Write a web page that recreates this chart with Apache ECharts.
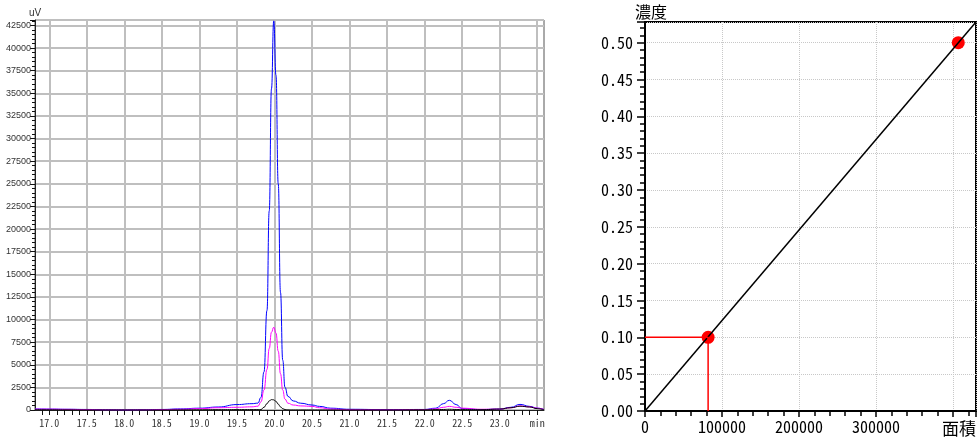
<!DOCTYPE html>
<html>
<head>
<meta charset="utf-8">
<script src="https://cdn.jsdelivr.net/npm/echarts@6/dist/echarts.min.js"></script>
<style>
  html, body { margin: 0; padding: 0; background: #fff; }
  #chart { width: 979px; height: 439px; }
</style>
</head>
<body>
<div id="chart"></div>
<script>
  // chromatogram (left)
  const time = [16.81, 17.0, 17.25, 17.5, 17.75, 18.0, 18.25, 18.5, 18.75, 19.0,
    19.25, 19.5, 19.7, 19.78, 19.82, 19.86, 19.9, 19.93, 19.96, 19.99,
    20.02, 20.05, 20.08, 20.11, 20.14, 20.18, 20.25, 20.35, 20.5, 20.6,
    20.75, 21.0, 21.5, 22.0, 22.15, 22.25, 22.33, 22.42, 22.5, 22.75,
    23.0, 23.15, 23.27, 23.4, 23.5, 23.59]
  const blue = [120, 100, 80, 60, 20, 0, 20, 60, 120, 200,
    330, 600, 700, 760, 1400, 4200, 11000, 22000, 35500, 43000,
    37000, 25000, 13000, 5500, 2500, 1500, 1000, 750, 550, 400,
    200, 80, 40, 60, 200, 700, 1070, 600, 150, 50,
    100, 300, 620, 400, 200, 50]
  const magenta = [100, 90, 70, 40, 10, 0, 10, 40, 80, 150,
    250, 300, 350, 420, 900, 2200, 4500, 6800, 8600, 9150,
    8500, 6500, 4000, 2200, 1200, 750, 550, 450, 400, 250,
    100, 30, 20, 50, 120, 300, 400, 300, 200, 80,
    100, 250, 450, 350, 200, 50]
  const black = [30, 20, 10, 0, 0, 0, 0, 0, 10, 20,
    30, 40, 40, 40, 50, 300, 700, 1000, 1150, 1120,
    950, 650, 350, 150, 50, 10, 0, 0, 0, 0,
    0, 0, 0, 20, 40, 60, 80, 60, 40, 30,
    100, 250, 420, 330, 150, 30]
  const timeTicks = [17.0, 17.5, 18.0, 18.5, 19.0, 19.5, 20.0, 20.5, 21.0, 21.5, 22.0, 22.5, 23.0, 23.5]

  // calibration curve (right)
  const curveArea = [0, 430000]
  const curveConc = [0, 0.528]
  const pointArea = [82000, 407000]
  const pointConc = [0.10, 0.50]
  const guideArea = [0, 82000, 82000]
  const guideConc = [0.10, 0.10, 0]

  function zip (xs, ys) {
    return xs.map((x, i) => [x, ys[i]])
  }
  // every 0.1 min between the labelled ticks
  let allTime = []
  for (let i = 0; i < timeTicks.length; i++) {
    for (let k = -4; k <= 0; k++) {
      let v = Math.round((timeTicks[i] + k * 0.1) * 10) / 10
      if (v > 16.81) allTime.push(v)
    }
  }

  const monoFont = '"Noto Sans Mono CJK JP", "Liberation Mono", monospace'
  const cjkFont = '"Noto Sans Mono CJK JP", "Noto Sans CJK JP", sans-serif'

  function chromLine (data, color) {
    return {
      type: 'line',
      xAxisIndex: 0,
      yAxisIndex: 0,
      data: zip(time, data),
      smooth: true,
      smoothMonotone: 'x',
      symbol: 'none',
      lineStyle: { color: color, width: 1 }
    }
  }

  let chart = echarts.init(document.getElementById('chart'))
  let option = {
    animation: false,
    grid: [
      { left: 35, top: 20, width: 509, height: 390, show: true, borderColor: '#555', borderWidth: 1 },
      { left: 645, top: 22, width: 332, height: 389, show: true, borderColor: '#000', borderWidth: 2 }
    ],
    xAxis: [
      {
        type: 'value',
        gridIndex: 0,
        position: 'bottom',
        min: 16.81,
        max: 23.59,
        axisLine: { onZero: false, lineStyle: { color: '#222', width: 1 } },
        axisTick: { show: true, inside: false, customValues: allTime, length: 5, lineStyle: { color: '#111', width: 1 } },
        axisLabel: {
          customValues: timeTicks,
          formatter: v => (v === 23.5 ? 'min' : v.toFixed(1)),
          fontFamily: monoFont,
          fontSize: 10,
          color: '#333',
          margin: 8
        },
        splitLine: { show: false }
      },
      {
        type: 'value',
        gridIndex: 0,
        position: 'top',
        min: 16.81,
        max: 23.59,
        axisLine: { show: false },
        axisTick: { show: false, customValues: timeTicks },
        axisLabel: { show: false },
        splitLine: { show: true, lineStyle: { color: '#bfbfbf', width: 2 } }
      },
      {
        type: 'value',
        gridIndex: 1,
        min: 0,
        max: 430000,
        interval: 100000,
        name: '面積',
        nameLocation: 'end',
        nameGap: 0,
        nameTextStyle: {
          align: 'right',
          verticalAlign: 'top',
          padding: [9, 0, 0, 0],
          fontFamily: cjkFont,
          fontSize: 17,
          color: '#000'
        },
        axisLine: { lineStyle: { color: '#000', width: 2 } },
        axisTick: { length: 6, lineStyle: { color: '#000', width: 1.5 } },
        minorTick: { show: true, splitNumber: 5, length: 5, lineStyle: { color: '#000', width: 1.5 } },
        axisLabel: {
          formatter: v => (v >= 400000 ? '' : String(v)),
          showMaxLabel: false,
          fontFamily: cjkFont,
          fontSize: 16,
          color: '#000',
          margin: 8
        },
        splitLine: { show: true, lineStyle: { color: '#c8c8c8', type: 'dotted', width: 1 } }
      }
    ],
    yAxis: [
      {
        type: 'value',
        gridIndex: 0,
        min: 0,
        max: 43100,
        interval: 2500,
        name: 'uV',
        nameLocation: 'end',
        nameGap: 2,
        nameTextStyle: { fontFamily: 'Liberation Sans', fontSize: 10, color: '#333', align: 'center' },
        axisLine: { show: true, lineStyle: { color: '#222', width: 1 } },
        axisTick: { show: true, length: 5, lineStyle: { color: '#111' } },
        minorTick: { show: true, splitNumber: 5, length: 3, lineStyle: { color: '#111' } },
        axisLabel: {
          showMaxLabel: false,
          formatter: v => String(v),
          fontFamily: 'Liberation Sans',
          fontSize: 9,
          color: '#333',
          margin: 4
        },
        splitLine: { show: true, lineStyle: { color: '#bfbfbf', width: 2 } }
      },
      {
        type: 'value',
        gridIndex: 1,
        min: 0,
        max: 0.528,
        interval: 0.05,
        name: '濃度',
        nameLocation: 'end',
        nameGap: 2,
        nameTextStyle: {
          fontFamily: cjkFont,
          fontSize: 16,
          color: '#000',
          align: 'center',
          padding: [0, 0, 0, 12]
        },
        axisLine: { show: true, lineStyle: { color: '#000', width: 2 } },
        axisTick: { length: 8, lineStyle: { color: '#000', width: 1.5 } },
        minorTick: { show: true, splitNumber: 5, length: 5, lineStyle: { color: '#000', width: 1.5 } },
        axisLabel: {
          showMaxLabel: false,
          formatter: v => v.toFixed(2),
          fontFamily: cjkFont,
          fontSize: 16,
          color: '#000',
          margin: 12
        },
        splitLine: { show: true, lineStyle: { color: '#c8c8c8', type: 'dotted', width: 1 } }
      }
    ],
    series: [
      chromLine(blue, '#0000ff'),
      chromLine(magenta, '#ff00ff'),
      chromLine(black, '#000000'),
      {
        type: 'line',
        xAxisIndex: 2,
        yAxisIndex: 1,
        data: zip(curveArea, curveConc),
        symbol: 'none',
        lineStyle: { color: '#000', width: 1.5 }
      },
      {
        type: 'line',
        xAxisIndex: 2,
        yAxisIndex: 1,
        data: zip(guideArea, guideConc),
        symbol: 'none',
        lineStyle: { color: '#ff0000', width: 1.5 }
      },
      {
        type: 'scatter',
        xAxisIndex: 2,
        yAxisIndex: 1,
        data: zip(pointArea, pointConc),
        symbol: 'circle',
        symbolSize: 13,
        itemStyle: { color: '#ff0000', opacity: 1 }
      }
    ]
  }
  chart.setOption(option)
</script>
</body>
</html>
